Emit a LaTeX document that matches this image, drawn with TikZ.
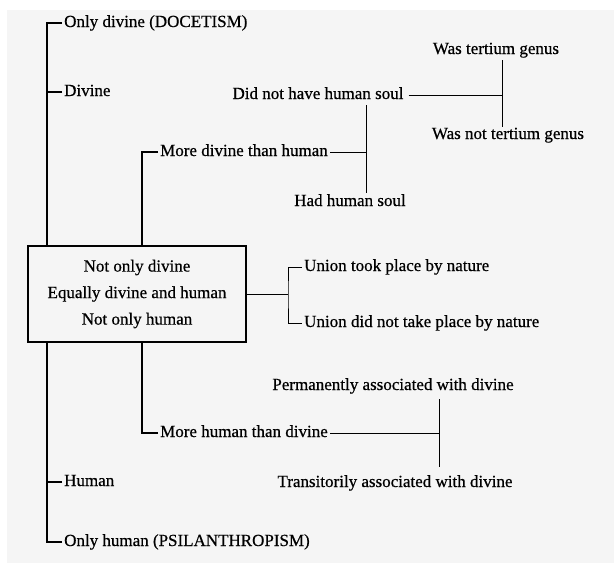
\documentclass[tikz,border=0pt]{standalone}
\usepackage{fontspec}
\setmainfont{Liberation Serif}[FakeBold=0.6]
\usepackage{tikz}
\usetikzlibrary{positioning}

\begin{document}
\begin{tikzpicture}[
    x=1pt, y=-1pt,
    spine line/.style={black, line width=1.1pt},
    branch line/.style={black, line width=0.8pt},
    term/.style={font=\fontsize{17}{20}\selectfont, inner sep=2pt,
                 text height=12pt, text depth=4pt},
    tick term/.style={term, anchor=west},
    core box/.style={draw, line width=1.1pt, align=center,
                     font=\fontsize{17}{26.5}\selectfont,
                     minimum width=218pt, minimum height=96pt, inner sep=0pt}
]

% --- 0. Page ---
\useasboundingbox (0,0) rectangle (614,573);
\fill[black!4] (7,10) rectangle (614,563);

% --- 1. Central box ---
\node[core box] (core) at (137,294)
    {Not only divine\\Equally divine and human\\Not only human};

% --- 2. Outer branches (left spine) ---
\node[tick term] (onlydiv) at (62,23)  {Only divine (DOCETISM)};
\node[tick term] (divine)  at (62,92)  {Divine};
\node[tick term] (human)   at (62,482) {Human};
\node[tick term] (onlyhum) at (62,542) {Only human (PSILANTHROPISM)};

\coordinate (spUp) at (47,246);
\coordinate (spDn) at (47,342);

\draw[spine line] (onlydiv.west) -| (spUp);
\draw[spine line] (divine.west) -- (divine.west -| spUp);
\draw[spine line] (onlyhum.west) -| (spDn);
\draw[spine line] (human.west) -- (human.west -| spDn);

% --- 3. Inner branches ---
\node[tick term] (moredh) at (158,152) {More divine than human};
\node[tick term] (morehd) at (158,433) {More human than divine};

\coordinate (inUp) at (142,246);
\coordinate (inDn) at (142,342);

\draw[spine line] (moredh.west) -| (inUp);
\draw[spine line] (morehd.west) -| (inDn);

% --- 4. Soul split ---
\node[term] (nosoul)  at (318,95)  {Did not have human soul};
\node[term] (hadsoul) at (350,202) {Had human soul};

\coordinate (soulJ)   at (366,152);
\coordinate (soulTop) at (366,105);
\coordinate (soulBot) at (366,193);

\draw[branch line] (moredh.east) -- (soulJ);
\draw[branch line] (soulTop) -- (soulBot);

% --- 5. Tertium genus split ---
\node[term] (tgYes) at (496,50)  {Was tertium genus};
\node[term] (tgNo)  at (508,135) {Was not tertium genus};

\coordinate (tgJ)   at (502,95);
\coordinate (tgTop) at (502,60);
\coordinate (tgBot) at (502,127);

\draw[branch line] ([xshift=3pt]nosoul.east) -- (tgJ);
\draw[branch line] (tgTop) -- (tgBot);

% --- 6. Union split ---
\node[tick term] (unYes) at (302,267) {Union took place by nature};
\node[tick term] (unNo)  at (302,323) {Union did not take place by nature};

\coordinate (unJ) at (288,294);

\draw[branch line] (core.east) -- (unJ);
\draw[branch line] (unYes.west) -| (unJ) |- (unNo.west);

% --- 7. Association split ---
\node[term] (permA)  at (393,386) {Permanently associated with divine};
\node[term] (transA) at (395,483) {Transitorily associated with divine};

\coordinate (asJ)   at (439,433);
\coordinate (asTop) at (439,399);
\coordinate (asBot) at (439,467);

\draw[branch line] (morehd.east) -- (asJ);
\draw[branch line] (asTop) -- (asBot);

\end{tikzpicture}
\end{document}
